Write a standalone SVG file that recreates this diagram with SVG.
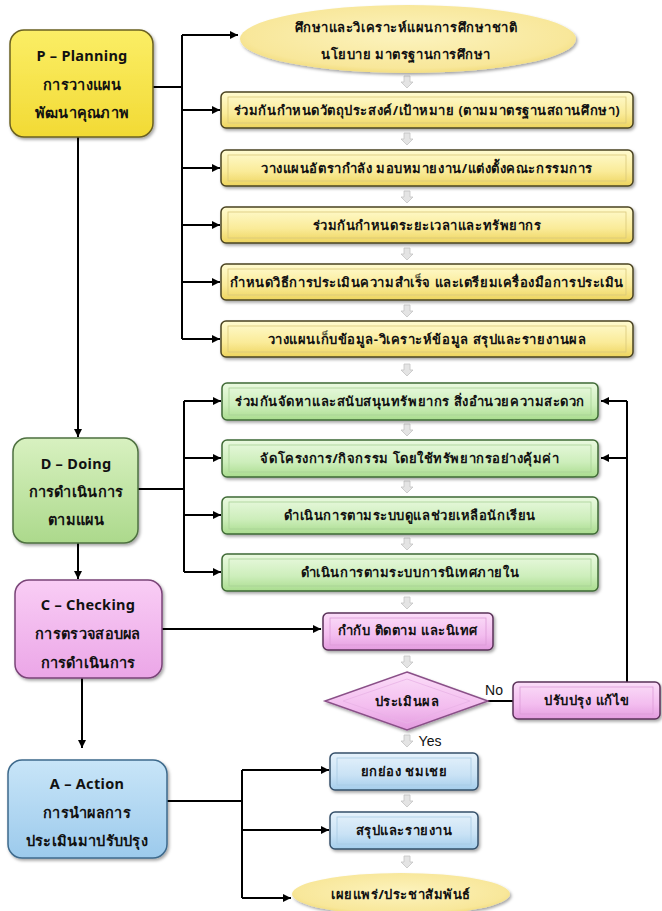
<svg xmlns="http://www.w3.org/2000/svg" width="662" height="911" viewBox="0 0 662 911">
<defs>
<linearGradient id="gY" x1="0" y1="0" x2="0" y2="1"><stop offset="0" stop-color="#FFFBD0"/><stop offset="0.6" stop-color="#FAEB98"/><stop offset="1" stop-color="#EDD45E"/></linearGradient>
<linearGradient id="gYb" x1="0" y1="0" x2="0" y2="1"><stop offset="0" stop-color="#FBEE66"/><stop offset="1" stop-color="#F2DA34"/></linearGradient>
<radialGradient id="gEl" cx="0.5" cy="0.45" r="0.6"><stop offset="0" stop-color="#FCF3BE"/><stop offset="0.8" stop-color="#F8E79A"/><stop offset="1" stop-color="#EFD770"/></radialGradient>
<linearGradient id="gG" x1="0" y1="0" x2="0" y2="1"><stop offset="0" stop-color="#EAF9E0"/><stop offset="0.6" stop-color="#CDEEBB"/><stop offset="1" stop-color="#A9DC8E"/></linearGradient>
<linearGradient id="gGb" x1="0" y1="0" x2="0" y2="1"><stop offset="0" stop-color="#D8F1C0"/><stop offset="1" stop-color="#ACD98C"/></linearGradient>
<linearGradient id="gP" x1="0" y1="0" x2="0" y2="1"><stop offset="0" stop-color="#FBDDF8"/><stop offset="0.6" stop-color="#F3BDEF"/><stop offset="1" stop-color="#E39BDF"/></linearGradient>
<linearGradient id="gPb" x1="0" y1="0" x2="0" y2="1"><stop offset="0" stop-color="#F9CDF5"/><stop offset="1" stop-color="#EBA6E7"/></linearGradient>
<linearGradient id="gB" x1="0" y1="0" x2="0" y2="1"><stop offset="0" stop-color="#E6F2FB"/><stop offset="0.6" stop-color="#C9E2F5"/><stop offset="1" stop-color="#A4CDEB"/></linearGradient>
<linearGradient id="gBb" x1="0" y1="0" x2="0" y2="1"><stop offset="0" stop-color="#C8E5F8"/><stop offset="1" stop-color="#9CCAEC"/></linearGradient>
<filter id="sh" x="-10%" y="-20%" width="125%" height="150%"><feDropShadow dx="1.5" dy="2" stdDeviation="1.5" flood-color="#000" flood-opacity="0.35"/></filter>
<marker id="ar" viewBox="0 0 8 8" refX="8" refY="4" markerWidth="8" markerHeight="8" markerUnits="userSpaceOnUse" orient="auto"><path d="M0,0 L8,4 L0,8 z" fill="#000"/></marker>
<path id="ga" d="M-3,0 L3,0 L3,6 L6,6 L0,12 L-6,6 L-3,6 Z"/>
</defs>
<style>
text{font-family:"Noto Sans","DejaVu Sans",sans-serif;font-weight:bold;fill:#111;text-anchor:middle;dominant-baseline:central}
.t{font-size:13px;letter-spacing:0.55px}
.big{font-size:14.5px;letter-spacing:0.3px}
.lbl{font-family:"Liberation Sans",Arial,sans-serif;font-weight:normal;font-size:14px;letter-spacing:0}
.b{stroke-width:1.5;filter:url(#sh)}
.in{fill:none;stroke-width:0.8}
.c{fill:none;stroke:#000;stroke-width:2}
.ca{fill:none;stroke:#000;stroke-width:2;marker-end:url(#ar)}
.gray use{fill:#E4E4E4;stroke:#C4C4C4;stroke-width:0.8}
</style>
<rect width="662" height="911" fill="#fff"/>

<g id="connectors">
<path class="c" d="M153,87 H182 M182,35 V339"/>
<path class="ca" d="M182,35 H238"/>
<path class="ca" d="M182,110 H220"/>
<path class="ca" d="M182,168 H220"/>
<path class="ca" d="M182,225 H220"/>
<path class="ca" d="M182,282 H220"/>
<path class="ca" d="M182,339 H220"/>
<path class="ca" d="M78,137 V437"/>
<path class="c" d="M138,489 H184 M184,401 V572"/>
<path class="ca" d="M184,401 H221"/>
<path class="ca" d="M184,458 H221"/>
<path class="ca" d="M184,515 H221"/>
<path class="ca" d="M184,572 H221"/>
<path class="ca" d="M78,543 V579"/>
<path class="ca" d="M162,629 H321"/>
<path class="ca" d="M82,678 V748"/>
<path class="c" d="M488,701 H513 M627,682 V401"/>
<path class="ca" d="M627,401 H601"/>
<path class="ca" d="M627,458 H601"/>
<path class="c" d="M167,801 H242 M242,770 V898"/>
<path class="ca" d="M242,770 H329"/>
<path class="ca" d="M242,830 H329"/>
<path class="ca" d="M242,898 H291"/>
<g class="gray">
<use href="#ga" x="407" y="76"/>
<use href="#ga" x="407" y="133"/>
<use href="#ga" x="407" y="191"/>
<use href="#ga" x="407" y="248"/>
<use href="#ga" x="407" y="305"/>
<use href="#ga" x="407" y="364"/>
<use href="#ga" x="407" y="424"/>
<use href="#ga" x="407" y="481"/>
<use href="#ga" x="407" y="538"/>
<use href="#ga" x="407" y="597"/>
<use href="#ga" x="407" y="656"/>
<use href="#ga" x="407" y="735"/>
<use href="#ga" x="407" y="795"/>
<use href="#ga" x="407" y="856"/>
</g>
<text class="lbl" x="494" y="690">No</text>
<text class="lbl" x="430" y="741">Yes</text>
</g>

<g id="P">
<rect class="b" x="10" y="30" width="143" height="107" rx="14" fill="url(#gYb)" stroke="#6b6120"/>
<text class="big" x="82" y="55">P – Planning</text>
<text class="big" x="82" y="84">การวางแผน</text>
<text class="big" x="82" y="112">พัฒนาคุณภาพ</text>
</g>
<g id="p0">
<ellipse cx="408" cy="39" rx="168" ry="34" fill="url(#gEl)" filter="url(#sh)"/>
<text class="t" x="406" y="27">ศึกษาและวิเคราะห์แผนการศึกษาชาติ</text>
<text class="t" x="406" y="54">นโยบาย มาตรฐานการศึกษา</text>
</g>
<g id="p1">
<rect class="b" x="221" y="92" width="412" height="36" rx="5" fill="url(#gY)" stroke="#4a4320"/>
<rect class="in" x="228" y="97" width="398" height="26" stroke="#D9C77A"/>
<text class="t" x="427" y="110">ร่วมกันกำหนดวัตถุประสงค์/เป้าหมาย (ตามมาตรฐานสถานศึกษา)</text>
</g>
<g id="p2">
<rect class="b" x="221" y="150" width="412" height="36" rx="5" fill="url(#gY)" stroke="#4a4320"/>
<rect class="in" x="228" y="155" width="398" height="26" stroke="#D9C77A"/>
<text class="t" x="427" y="168">วางแผนอัตรากำลัง มอบหมายงาน/แต่งตั้งคณะกรรมการ</text>
</g>
<g id="p3">
<rect class="b" x="221" y="207" width="412" height="36" rx="5" fill="url(#gY)" stroke="#4a4320"/>
<rect class="in" x="228" y="212" width="398" height="26" stroke="#D9C77A"/>
<text class="t" x="427" y="225">ร่วมกันกำหนดระยะเวลาและทรัพยากร</text>
</g>
<g id="p4">
<rect class="b" x="221" y="264" width="412" height="36" rx="5" fill="url(#gY)" stroke="#4a4320"/>
<rect class="in" x="228" y="269" width="398" height="26" stroke="#D9C77A"/>
<text class="t" x="427" y="282">กำหนดวิธีการประเมินความสำเร็จ และเตรียมเครื่องมือการประเมิน</text>
</g>
<g id="p5">
<rect class="b" x="221" y="321" width="412" height="36" rx="5" fill="url(#gY)" stroke="#4a4320"/>
<rect class="in" x="228" y="326" width="398" height="26" stroke="#D9C77A"/>
<text class="t" x="427" y="339">วางแผนเก็บข้อมูล-วิเคราะห์ข้อมูล สรุปและรายงานผล</text>
</g>

<g id="D">
<rect class="b" x="13" y="438" width="125" height="105" rx="14" fill="url(#gGb)" stroke="#4e7040"/>
<text class="big" x="76" y="463">D – Doing</text>
<text class="big" x="76" y="491">การดำเนินการ</text>
<text class="big" x="76" y="519">ตามแผน</text>
</g>
<g id="d1">
<rect class="b" x="222" y="383" width="376" height="37" rx="5" fill="url(#gG)" stroke="#3f6a36"/>
<rect class="in" x="229" y="388" width="362" height="27" stroke="#A8D196"/>
<text class="t" x="410" y="401">ร่วมกันจัดหาและสนับสนุนทรัพยากร สิ่งอำนวยความสะดวก</text>
</g>
<g id="d2">
<rect class="b" x="222" y="440" width="376" height="37" rx="5" fill="url(#gG)" stroke="#3f6a36"/>
<rect class="in" x="229" y="445" width="362" height="27" stroke="#A8D196"/>
<text class="t" x="410" y="458">จัดโครงการ/กิจกรรม โดยใช้ทรัพยากรอย่างคุ้มค่า</text>
</g>
<g id="d3">
<rect class="b" x="222" y="497" width="376" height="37" rx="5" fill="url(#gG)" stroke="#3f6a36"/>
<rect class="in" x="229" y="502" width="362" height="27" stroke="#A8D196"/>
<text class="t" x="410" y="515">ดำเนินการตามระบบดูแลช่วยเหลือนักเรียน</text>
</g>
<g id="d4">
<rect class="b" x="222" y="554" width="376" height="37" rx="5" fill="url(#gG)" stroke="#3f6a36"/>
<rect class="in" x="229" y="559" width="362" height="27" stroke="#A8D196"/>
<text class="t" x="410" y="572">ดำเนินการตามระบบการนิเทศภายใน</text>
</g>

<g id="C">
<rect class="b" x="15" y="580" width="147" height="98" rx="14" fill="url(#gPb)" stroke="#7a4478"/>
<text class="big" x="88" y="604">C – Checking</text>
<text class="big" x="88" y="633">การตรวจสอบผล</text>
<text class="big" x="88" y="662">การดำเนินการ</text>
</g>
<g id="c1">
<rect class="b" x="323" y="613" width="170" height="37" rx="5" fill="url(#gP)" stroke="#5a3058"/>
<rect class="in" x="330" y="618" width="156" height="27" stroke="#DB9CD7"/>
<text class="t" x="408" y="630">กำกับ ติดตาม และนิเทศ</text>
</g>
<g id="c2">
<polygon class="b" points="407,672 488,701 407,730 325,701" fill="url(#gP)" stroke="#8a5088"/>
<polygon class="in" points="407,679 470,701 407,723 343,701" stroke="#E9B2E6"/>
<text class="t" x="407" y="701">ประเมินผล</text>
</g>
<g id="c3">
<rect class="b" x="513" y="682" width="147" height="37" rx="5" fill="url(#gP)" stroke="#5a3058"/>
<rect class="in" x="520" y="687" width="133" height="27" stroke="#DB9CD7"/>
<text class="t" x="587" y="700">ปรับปรุง แก้ไข</text>
</g>

<g id="A">
<rect class="b" x="8" y="760" width="159" height="98" rx="14" fill="url(#gBb)" stroke="#3e6a8c"/>
<text class="big" x="87" y="783">A – Action</text>
<text class="big" x="87" y="812">การนำผลการ</text>
<text class="big" x="87" y="840">ประเมินมาปรับปรุง</text>
</g>
<g id="a1">
<rect class="b" x="330" y="753" width="148" height="37" rx="5" fill="url(#gB)" stroke="#34506a"/>
<rect class="in" x="337" y="758" width="134" height="27" stroke="#A9CBE4"/>
<text class="t" x="404" y="771">ยกย่อง ชมเชย</text>
</g>
<g id="a2">
<rect class="b" x="330" y="812" width="148" height="37" rx="5" fill="url(#gB)" stroke="#34506a"/>
<rect class="in" x="337" y="817" width="134" height="27" stroke="#A9CBE4"/>
<text class="t" x="404" y="830">สรุปและรายงาน</text>
</g>
<g id="a3">
<ellipse cx="401" cy="894" rx="109" ry="21" fill="url(#gEl)" filter="url(#sh)"/>
<text class="t" x="401" y="894">เผยแพร่/ประชาสัมพันธ์</text>
</g>
</svg>
